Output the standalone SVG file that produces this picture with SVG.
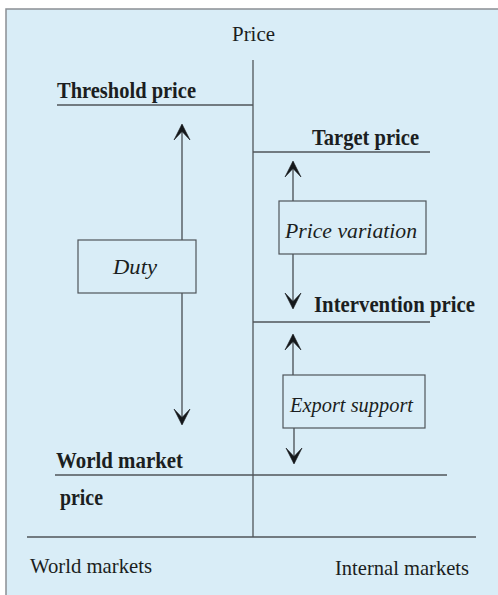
<svg xmlns="http://www.w3.org/2000/svg" width="498" height="595" viewBox="0 0 498 595" font-family="'Liberation Serif', 'Times New Roman', Times, serif">
  <style>
    .panel { fill: #d9edf7; stroke: #8a8f94; stroke-width: 1.5; }
    .axis { stroke: #4f555a; stroke-width: 1.3; fill: none; }
    .level { stroke: #4f555a; stroke-width: 1.3; fill: none; }
    .arrow { stroke: #3a3f44; stroke-width: 1.2; fill: none; marker-end: url(#dart); }
    .box { fill: #d9edf7; stroke: #4f555a; stroke-width: 1.2; }
    text { fill: #1b1e21; }
    .plain { font-size: 22px; }
    .level-label { font-size: 23px; font-weight: bold; }
    .box-label { font-size: 22px; font-style: italic; }
  </style>
  <defs>
    <!-- bold chevron arrowhead with a notched back -->
    <marker id="dart" viewBox="-18 -10 20 20" refX="0" refY="0" markerWidth="20" markerHeight="20" markerUnits="userSpaceOnUse" orient="auto">
      <path d="M1,0 L-15,-8 L-6.5,0 L-15,8 Z" fill="#15181b" stroke="#15181b" stroke-width="0.6" stroke-linejoin="miter"/>
    </marker>
  </defs>

  <rect width="498" height="595" fill="#ffffff"/>
  <rect class="panel" x="6" y="9" width="500" height="600"/>

  <!-- axes and price levels -->
  <g id="axes">
    <line class="axis" x1="253" y1="60" x2="253" y2="537"/>
    <line class="axis" x1="27" y1="537" x2="476" y2="537"/>
    <text class="plain" x="232" y="41" textLength="43" lengthAdjust="spacingAndGlyphs">Price</text>
    <text class="plain" x="30" y="573" textLength="122" lengthAdjust="spacingAndGlyphs">World markets</text>
    <text class="plain" x="335" y="575" textLength="134" lengthAdjust="spacingAndGlyphs">Internal markets</text>
  </g>

  <g id="threshold-price">
    <line class="level" x1="57" y1="105" x2="253" y2="105"/>
    <text class="level-label" x="57" y="98" textLength="139" lengthAdjust="spacingAndGlyphs">Threshold price</text>
  </g>

  <g id="target-price">
    <line class="level" x1="253" y1="152" x2="430" y2="152"/>
    <text class="level-label" x="312" y="145" textLength="107" lengthAdjust="spacingAndGlyphs">Target price</text>
  </g>

  <g id="intervention-price">
    <line class="level" x1="253" y1="322" x2="430" y2="322"/>
    <text class="level-label" x="314" y="312" textLength="161" lengthAdjust="spacingAndGlyphs">Intervention price</text>
  </g>

  <g id="world-market-price">
    <line class="level" x1="55" y1="475" x2="447" y2="475"/>
    <text class="level-label" x="56" y="468" textLength="127" lengthAdjust="spacingAndGlyphs">World market</text>
    <text class="level-label" x="60" y="505" textLength="43" lengthAdjust="spacingAndGlyphs">price</text>
  </g>

  <!-- double-headed spans between the levels -->
  <g id="connectors">
    <line class="arrow" x1="182" y1="240" x2="182" y2="125"/>
    <line class="arrow" x1="182" y1="293" x2="182" y2="424"/>
    <line class="arrow" x1="293" y1="201" x2="293" y2="162"/>
    <line class="arrow" x1="293" y1="254" x2="293" y2="308"/>
    <line class="arrow" x1="293" y1="375" x2="293" y2="335"/>
    <line class="arrow" x1="294" y1="428" x2="294" y2="463"/>
  </g>

  <g id="duty">
    <rect class="box" x="78" y="240" width="118" height="53"/>
    <text class="box-label" x="113" y="274" textLength="44" lengthAdjust="spacingAndGlyphs">Duty</text>
  </g>

  <g id="price-variation">
    <rect class="box" x="279" y="201" width="147" height="53"/>
    <text class="box-label" x="285" y="238" textLength="132" lengthAdjust="spacingAndGlyphs">Price variation</text>
  </g>

  <g id="export-support">
    <rect class="box" x="283" y="375" width="142" height="53"/>
    <text class="box-label" x="290" y="412" textLength="123" lengthAdjust="spacingAndGlyphs">Export support</text>
  </g>
</svg>
